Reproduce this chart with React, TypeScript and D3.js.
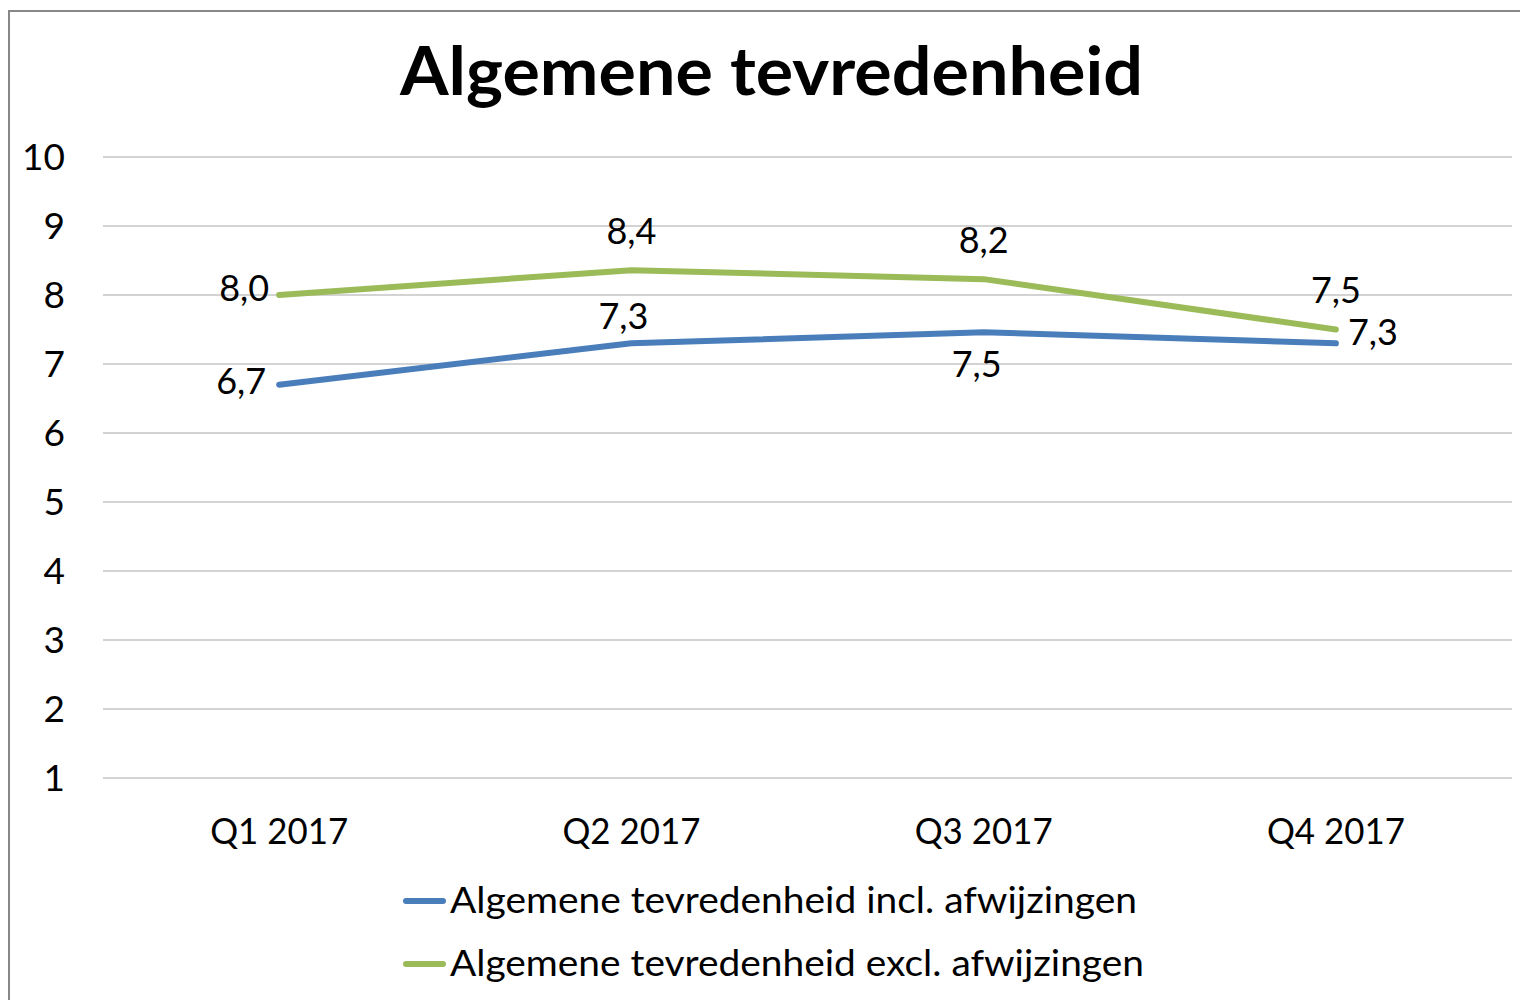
import React from "react";
import * as d3 from "d3";

const title = "Algemene tevredenheid";
const categories = ["Q1 2017", "Q2 2017", "Q3 2017", "Q4 2017"];
const seriesNames = [
  "Algemene tevredenheid incl. afwijzingen",
  "Algemene tevredenheid excl. afwijzingen",
];
const inclValues = [6.7, 7.3, 7.46, 7.3];
const exclValues = [8.0, 8.36, 8.23, 7.5];
const yTicks = [1, 2, 3, 4, 5, 6, 7, 8, 9, 10];

const colors = ["#4a7ebb", "#9bbb59"];
// label placement [dx, dy] relative to point, plus anchor
const inclLabelPos: [number, number, string][] = [
  [-13, 9, "end"],
  [-8, -14, "middle"],
  [-7, 45, "middle"],
  [12, 2, "start"],
];
const exclLabelPos: [number, number, string][] = [
  [-10, 6, "end"],
  [0, -26, "middle"],
  [0, -26, "middle"],
  [0, -27, "middle"],
];
const legendWidths = [687, 694];

const FONT = "Lato, 'Open Sans', sans-serif";

export default function App() {
  const W = 1520;
  const H = 1000;
  const x = d3.scaleBand().domain(categories).range([103, 1512]);
  const y = d3.scaleLinear().domain([1, 10]).range([778, 157]);
  const cx = (c: string) => (x(c) as number) + x.bandwidth() / 2;
  const line = d3
    .line<number>()
    .x((_, i) => cx(categories[i]))
    .y((d) => y(d));
  const fmt = (v: number) => d3.format(".1f")(v).replace(".", ",");
  const series = [
    { values: inclValues, pos: inclLabelPos, color: colors[0] },
    { values: exclValues, pos: exclLabelPos, color: colors[1] },
  ];
  return (
    <svg
      width={W}
      height={H}
      style={{ position: "absolute", left: 0, top: 0, background: "#fff" }}
      fontFamily={FONT}
    >
      <rect x={0} y={0} width={W} height={H} fill="#fff" />
      <rect x={9} y={11} width={1700} height={1200} fill="none" stroke="#878787" strokeWidth={2} />
      <text
        x={771.5}
        y={95}
        textAnchor="middle"
        fontSize={66}
        fontWeight="bold"
        fill="#000"
        textLength={743}
        lengthAdjust="spacingAndGlyphs"
      >
        {title}
      </text>
      {yTicks.map((t) => (
        <g key={t}>
          <line x1={103} x2={1512} y1={y(t)} y2={y(t)} stroke="#a8a8a8" strokeWidth={1.2} />
          <text x={65} y={y(t) + 13} textAnchor="end" fontSize={37} fill="#000">
            {t}
          </text>
        </g>
      ))}
      {categories.map((c) => (
        <text
          key={c}
          x={cx(c)}
          y={844}
          textAnchor="middle"
          fontSize={37}
          fill="#000"
          textLength={138}
          lengthAdjust="spacingAndGlyphs"
        >
          {c}
        </text>
      ))}
      {series.map((s, si) => (
        <path
          key={si}
          d={line(s.values) as string}
          fill="none"
          stroke={s.color}
          strokeWidth={6}
          strokeLinecap="round"
          strokeLinejoin="round"
        />
      ))}
      {series.map((s, si) =>
        s.values.map((v, i) => (
          <text
            key={`${si}-${i}`}
            x={cx(categories[i]) + s.pos[i][0]}
            y={y(v) + s.pos[i][1]}
            textAnchor={s.pos[i][2] as any}
            fontSize={36}
            fill="#000"
          >
            {fmt(v)}
          </text>
        ))
      )}
      {seriesNames.map((n, i) => (
        <g key={n}>
          <line
            x1={406}
            x2={443}
            y1={901 + i * 63}
            y2={901 + i * 63}
            stroke={colors[i]}
            strokeWidth={6}
            strokeLinecap="round"
          />
          <text
            x={450}
            y={913 + i * 63}
            fontSize={36}
            fill="#000"
            textLength={legendWidths[i]}
            lengthAdjust="spacingAndGlyphs"
          >
            {n}
          </text>
        </g>
      ))}
    </svg>
  );
}
